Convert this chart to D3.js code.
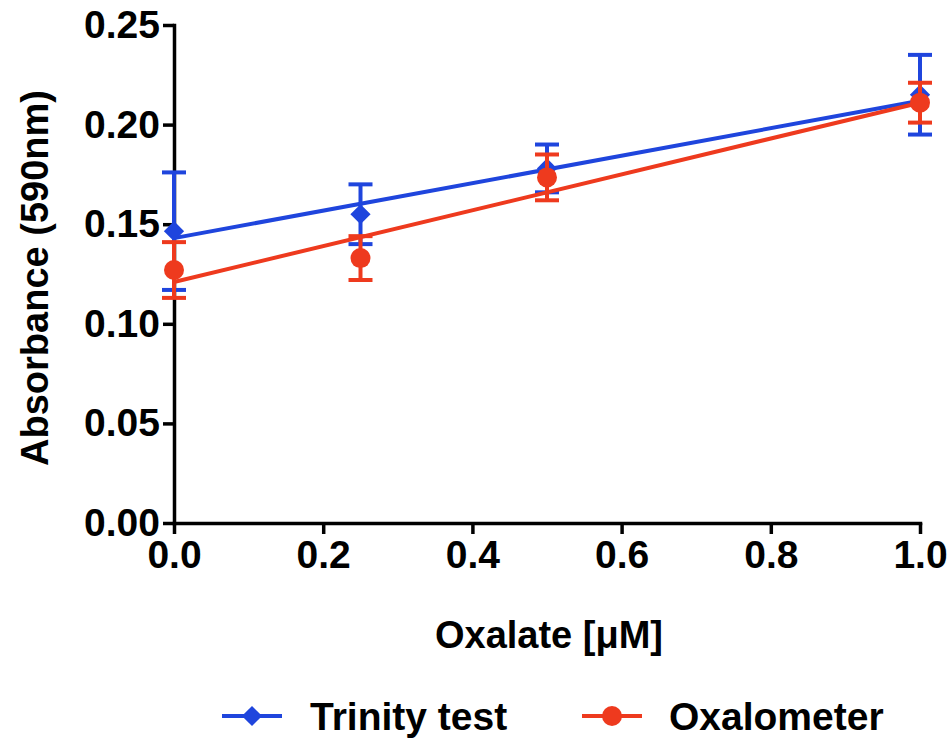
<!DOCTYPE html>
<html>
<head>
<meta charset="utf-8">
<script src="https://cdn.jsdelivr.net/npm/d3@7"></script>
<style>
  body { margin: 0; background: #fff; }
  svg text { font-family: "Liberation Sans", Arial, sans-serif; font-weight: bold; fill: #000; }
  .axis path, .axis line { stroke: #000; stroke-width: 3.5; }
  .axis text { font-size: 39px; }
</style>
</head>
<body>
<script>
const width = 951;
const height = 738;

// data
const oxalate = [0, 0.25, 0.5, 1.0];
const trinityMean = [0.1465, 0.155, 0.178, 0.215];
const trinityErr = [0.0295, 0.015, 0.012, 0.020];
const oxaMean = [0.127, 0.133, 0.1735, 0.211];
const oxaErr = [0.014, 0.011, 0.0115, 0.010];
// linear fit lines (ends at x = 0 and x = 1)
const fitX = [0, 1];
const trinityFit = [0.143, 0.212];
const oxaFit = [0.121, 0.211];

const xTicks = [0, 0.2, 0.4, 0.6, 0.8, 1.0];
const yTicks = [0, 0.05, 0.10, 0.15, 0.20, 0.25];

const series = [
  { name: "Trinity test", mean: trinityMean, err: trinityErr, fit: trinityFit, color: "#1f45dd", marker: "diamond" },
  { name: "Oxalometer", mean: oxaMean, err: oxaErr, fit: oxaFit, color: "#ee3a1e", marker: "circle" }
];

const svg = d3.select("body").append("svg")
  .attr("width", width)
  .attr("height", height);

const x = d3.scaleLinear().domain([0, 1]).range([174, 920]);
const y = d3.scaleLinear().domain([0, 0.25]).range([523, 25]);

// axes
svg.append("g")
  .attr("class", "axis")
  .attr("transform", `translate(0,${y(0)})`)
  .call(d3.axisBottom(x).tickValues(xTicks).tickFormat(d3.format(".1f")).tickSize(11).tickSizeOuter(0).tickPadding(6));

svg.append("g")
  .attr("class", "axis")
  .attr("transform", `translate(${x(0)},0)`)
  .call(d3.axisLeft(y).tickValues(yTicks).tickFormat(d3.format(".2f")).tickSize(11).tickSizeOuter(0).tickPadding(3));

svg.selectAll(".axis .domain").attr("stroke-linecap", "square");

// axis titles
svg.append("text")
  .attr("x", 549)
  .attr("y", 648)
  .attr("text-anchor", "middle")
  .style("font-size", "38px")
  .text("Oxalate [μM]");

svg.append("text")
  .attr("transform", `translate(48,${278}) rotate(-90)`)
  .attr("text-anchor", "middle")
  .style("font-size", "38px")
  .text("Absorbance (590nm)");

const diamond = d3.symbol().type(d3.symbolDiamond2).size(260);

series.forEach(s => {
  const g = svg.append("g");

  // fit line
  g.append("line")
    .attr("x1", x(fitX[0])).attr("y1", y(s.fit[0]))
    .attr("x2", x(fitX[1])).attr("y2", y(s.fit[1]))
    .attr("stroke", s.color).attr("stroke-width", 4);

  const pts = g.selectAll(".pt")
    .data(oxalate.map((v, i) => ({ x: v, m: s.mean[i], e: s.err[i] })))
    .enter().append("g");

  // error bars
  pts.append("line")
    .attr("x1", d => x(d.x)).attr("x2", d => x(d.x))
    .attr("y1", d => y(d.m + d.e)).attr("y2", d => y(d.m - d.e))
    .attr("stroke", s.color).attr("stroke-width", 4);
  pts.append("line")
    .attr("x1", d => x(d.x) - 12).attr("x2", d => x(d.x) + 12)
    .attr("y1", d => y(d.m + d.e)).attr("y2", d => y(d.m + d.e))
    .attr("stroke", s.color).attr("stroke-width", 4);
  pts.append("line")
    .attr("x1", d => x(d.x) - 12).attr("x2", d => x(d.x) + 12)
    .attr("y1", d => y(d.m - d.e)).attr("y2", d => y(d.m - d.e))
    .attr("stroke", s.color).attr("stroke-width", 4);

  // markers
  if (s.marker === "circle") {
    pts.append("circle")
      .attr("cx", d => x(d.x)).attr("cy", d => y(d.m))
      .attr("r", 10).attr("fill", s.color);
  } else {
    pts.append("path")
      .attr("d", diamond)
      .attr("transform", d => `translate(${x(d.x)},${y(d.m)})`)
      .attr("fill", s.color);
  }
});

// legend
const legendItems = [
  { s: series[0], x0: 222, tx: 310 },
  { s: series[1], x0: 582, tx: 669 }
];
const legendY = 716;
legendItems.forEach(item => {
  const g = svg.append("g");
  g.append("line")
    .attr("x1", item.x0).attr("x2", item.x0 + 60)
    .attr("y1", legendY).attr("y2", legendY)
    .attr("stroke", item.s.color).attr("stroke-width", 4);
  if (item.s.marker === "circle") {
    g.append("circle").attr("cx", item.x0 + 30).attr("cy", legendY).attr("r", 10).attr("fill", item.s.color);
  } else {
    g.append("path").attr("d", diamond).attr("transform", `translate(${item.x0 + 30},${legendY})`).attr("fill", item.s.color);
  }
  g.append("text")
    .attr("x", item.tx)
    .attr("y", legendY + 14)
    .style("font-size", "39px")
    .text(item.s.name);
});
</script>
</body>
</html>
